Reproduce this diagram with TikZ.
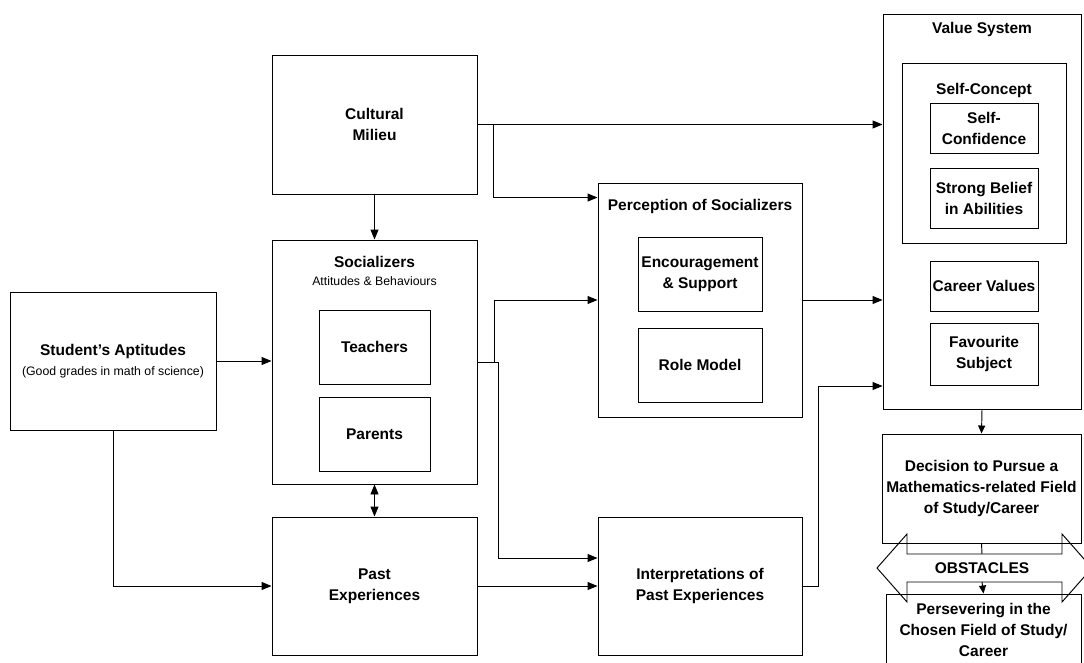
\documentclass[tikz,border=0pt]{standalone}
\usepackage{fontspec}
\setmainfont{Liberation Sans}
\usetikzlibrary{arrows.meta,calc}
\begin{document}
\begin{tikzpicture}[x=1pt,y=-1pt,
  box/.style={draw, line width=0.95pt, rectangle, inner sep=0pt, align=center,
    font=\bfseries\fontsize{15.5}{21}\selectfont},
  ttl/.style={inner sep=0pt, align=center, font=\bfseries\fontsize{15.5}{21}\selectfont},
  sml/.style={inner sep=0pt, font=\fontsize{12.3}{15}\selectfont},
  arr/.style={line width=0.95pt, -{Triangle[length=10pt,width=8pt]}},
  ln/.style={line width=0.95pt}]
\useasboundingbox (0,0) rectangle (1084,662);
\clip (0,0) rectangle (1084,662);
\fill[white] (0,0) rectangle (1084,662);

% left column
\node[box, minimum width=206pt, minimum height=138pt] (apt) at (113,361)
  {Student's Aptitudes\\[-1pt]{\mdseries\fontsize{12.3}{15}\selectfont (Good grades in math of science)}};

% middle-left column
\node[box, minimum width=205pt, minimum height=139pt] (cult) at (374.5,124.5) {Cultural\\Milieu};
\node[box, minimum width=205pt, minimum height=244pt] (soc) at (374.5,362) {};
\node[ttl] (soct) at (374.5,262) {Socializers};
\node[sml] (socs) at (374.5,281) {Attitudes \& Behaviours};
\node[box, minimum width=111pt, minimum height=74pt] (teach) at (374.5,347) {Teachers};
\node[box, minimum width=111pt, minimum height=74pt] (par) at (374.5,434) {Parents};
\node[box, minimum width=205pt, minimum height=138pt] (past) at (374.5,586) {Past\\Experiences};

% middle-right column
\node[box, minimum width=204pt, minimum height=234pt] (perc) at (700,300) {};
\node[ttl] (perct) at (700,206) {Perception of Socializers};
\node[box, minimum width=124pt, minimum height=74pt] (enc) at (700,274) {Encouragement\\\& Support};
\node[box, minimum width=124pt, minimum height=74pt] (role) at (700,365) {Role Model};
\node[box, minimum width=204pt, minimum height=138pt] (interp) at (700,586) {Interpretations of\\Past Experiences};

% right column
\node[box, minimum width=198pt, minimum height=395pt] (val) at (982,211.5) {};
\node[ttl] (valt) at (982,29) {Value System};
\node[box, minimum width=164pt, minimum height=180pt] (self) at (984,153) {};
\node[ttl] (selft) at (984,90) {Self-Concept};
\node[box, minimum width=108pt, minimum height=50pt] (conf) at (984,128) {Self-\\Confidence};
\node[box, minimum width=108pt, minimum height=60pt] (belief) at (984,198) {Strong Belief\\in Abilities};
\node[box, minimum width=108pt, minimum height=50pt] (career) at (984,286) {Career Values};
\node[box, minimum width=108pt, minimum height=62pt] (fav) at (984,354) {Favourite\\Subject};
\node[box, minimum width=199pt, minimum height=109pt] (dec) at (981.5,488.5)
  {Decision to Pursue a\\Mathematics-related Field\\of Study/Career};
\node[box, minimum width=195pt, minimum height=72pt] (pers) at (983.5,630)
  {Persevering in the\\Chosen Field of Study/\\Career};

% obstacles double arrow
\draw[ln, line join=miter] (877,568) -- (907,534) -- (907,554) -- (1062,554) -- (1062,534)
  -- (1092,568) -- (1062,602) -- (1062,582) -- (907,582) -- (907,602) -- cycle;
\node[ttl] (obst) at (982,568) {OBSTACLES};
\coordinate (shtop) at (982,554);
\coordinate (shbot) at (982,582);

% connectors
\draw[arr] (cult.east) -- (cult.east -| val.west);
\draw[arr] ($(cult.east)+(16,0)$) |- ($(perc.north west)+(0,15)$);
\draw[arr] (cult.south) -- (soc.north);
\draw[arr] (apt.east) -- (apt.east -| soc.west);
\draw[arr] (apt.south) |- (past.west);
\draw[ln, {Triangle[length=10pt,width=8pt]}-{Triangle[length=10pt,width=8pt]}] (soc.south) -- (past.north);
\draw[arr] (soc.east) -- ++(17,0) |- (perc.west);
\draw[arr] (soc.east) -- ++(21,0) |- ($(interp.west)+(0,-28)$);
\draw[arr] (past.east) -- (interp.west);
\draw[arr] (perc.east) -- (perc.east -| val.west);
\draw[arr] (interp.east) -- ++(16,0) |- ($(val.west)+(0,174.5)$);
\draw[ln, -{Triangle[length=8pt,width=7pt]}] (val.south) -- (dec.north);
\draw[ln] (dec.south) -- (shtop);
\draw[ln, -{Triangle[length=8pt,width=7pt]}] (shbot) -- (pers.north);
\end{tikzpicture}
\end{document}
